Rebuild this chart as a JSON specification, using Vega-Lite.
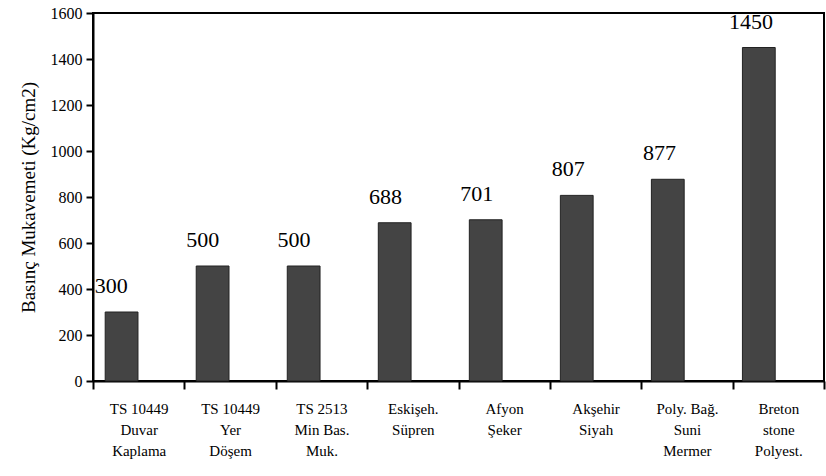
{
  "$schema": "https://vega.github.io/schema/vega-lite/v6.json",
  "width": 731,
  "height": 368,
  "autosize": "none",
  "padding": {"left": 93, "top": 13, "right": 2, "bottom": 95},
  "background": "white",
  "config": {
    "view": {"stroke": "black", "strokeWidth": 2},
    "font": "Liberation Serif, serif"
  },
  "data": {
    "values": [
      {"cat": "TS 10449|Duvar|Kaplama", "value": 300},
      {"cat": "TS 10449|Yer|Döşem", "value": 500},
      {"cat": "TS 2513|Min Bas.|Muk.", "value": 500},
      {"cat": "Eskişeh.|Süpren", "value": 688},
      {"cat": "Afyon|Şeker", "value": 701},
      {"cat": "Akşehir|Siyah", "value": 807},
      {"cat": "Poly. Bağ.|Suni|Mermer", "value": 877},
      {"cat": "Breton|stone|Polyest.", "value": 1450}
    ]
  },
  "encoding": {
    "y": {
      "field": "value",
      "type": "quantitative",
      "scale": {"domain": [0, 1600], "nice": false},
      "axis": {
        "title": "Basınç Mukavemeti (Kg/cm2)",
        "titleFont": "Liberation Serif, serif",
        "titleFontSize": 19,
        "titleFontWeight": "normal",
        "titleColor": "black",
        "titlePadding": 12,
        "values": [0, 200, 400, 600, 800, 1000, 1200, 1400, 1600],
        "format": "d",
        "grid": false,
        "labelFont": "Liberation Serif, serif",
        "labelFontSize": 16,
        "labelColor": "black",
        "labelPadding": 4,
        "domainColor": "black",
        "domainWidth": 2,
        "tickColor": "black",
        "tickWidth": 2,
        "tickSize": 7
      }
    }
  },
  "layer": [
    {
      "mark": {"type": "bar", "color": "#444444", "stroke": "#222222", "strokeWidth": 1},
      "encoding": {
        "x": {
          "field": "cat",
          "type": "nominal",
          "sort": null,
          "scale": {"paddingInner": 0.64, "paddingOuter": 0.335, "align": 0.2},
          "axis": null
        }
      }
    },
    {
      "mark": {"type": "text", "baseline": "bottom", "dy": -14, "fontSize": 22, "font": "Liberation Serif, serif", "color": "black"},
      "encoding": {
        "x": {
          "field": "cat",
          "type": "nominal",
          "sort": null,
          "scale": {"paddingInner": 0.64, "paddingOuter": 0.335, "align": 0.2},
          "axis": null
        },
        "text": {"field": "value", "type": "quantitative"}
      }
    },
    {
      "mark": {"type": "tick", "opacity": 0},
      "encoding": {
        "x2": {"datum": null},
        "x": {
          "field": "cat",
          "type": "nominal",
          "sort": null,
          "scale": {"paddingInner": 0, "paddingOuter": 0},
          "axis": {
            "title": null,
            "labelAngle": 0,
            "labelExpr": "split(datum.label, '|')",
            "labelFont": "Liberation Serif, serif",
            "labelFontSize": 15,
            "labelColor": "black",
            "labelLineHeight": 21,
            "labelPadding": 12,
            "labelBaseline": "top",
            "domainColor": "black",
            "domainWidth": 2,
            "tickColor": "black",
            "tickWidth": 2,
            "tickSize": 8,
            "tickBand": "extent"
          }
        }
      }
    }
  ],
  "resolve": {"scale": {"x": "independent"}}
}
